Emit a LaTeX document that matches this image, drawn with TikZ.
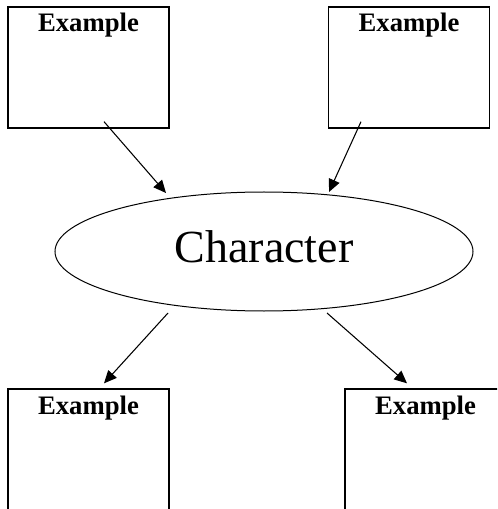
\documentclass[tikz,border=0pt]{standalone}
\usepackage{fontspec}
\setmainfont{Liberation Serif}
\usepackage{tikz}
\usetikzlibrary{arrows.meta,shapes.geometric,calc}

\begin{document}
\begin{tikzpicture}[x=0.75pt, y=-0.75pt,
        examplebox/.style={draw=black, line width=1pt, rectangle, inner sep=0pt,
            minimum width=161*0.75pt, text height=25*0.75pt, text depth=96*0.75pt,
            font=\fontsize{20}{21}\selectfont\bfseries},
        charnode/.style={draw=black, line width=0.75pt, ellipse, inner sep=0pt,
            minimum width=418*0.75pt, minimum height=119*0.75pt, text depth=8pt,
            font=\fontsize{34.5}{36}\selectfont},
        link/.style={line width=0.8pt, -{Triangle[length=9.5pt,width=8.5pt]}}]
                        \useasboundingbox (0,0) rectangle (497,509);
                        \clip (0,0) rectangle (497,509);
                        \node[charnode] (char) at (264,251.5) {Character};
                        \node[examplebox] (topleft) at (88.5,67.5) {Example};
                        \node[examplebox] (topright) at (409,67.5) {Example};
                        \node[examplebox] (botleft) at (88.5,449.5) {Example};
                        \node[examplebox] (botright) at (425.5,449.5) {Example};
                        \draw[link] ($(topleft.south)+(15.5,-7)$) -- ($(char.center)+(-98,-58.5)$);
                        \draw[link] ($(topright.south)+(-48,-7)$) -- ($(char.center)+(65,-59.5)$);
                        \draw[link] ($(char.center)+(-96,61.5)$) -- ($(botleft.north)+(15.5,-5)$);
                        \draw[link] ($(char.center)+(63,61.5)$) -- ($(botright.north)+(-18.5,-5)$);
                    \end{tikzpicture}
\end{document}
